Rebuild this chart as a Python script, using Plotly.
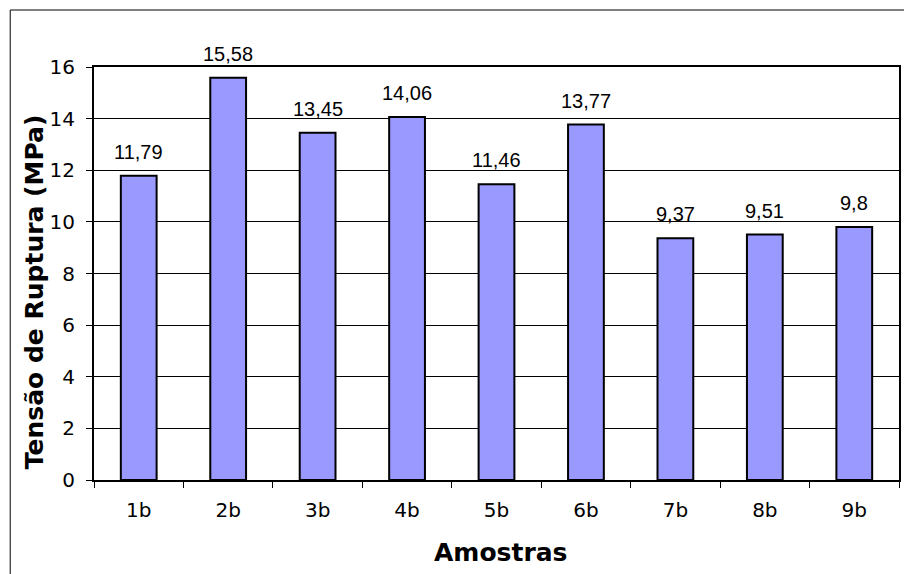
import plotly.graph_objects as go

categories = ["1b", "2b", "3b", "4b", "5b", "6b", "7b", "8b", "9b"]
values = [11.79, 15.58, 13.45, 14.06, 11.46, 13.77, 9.37, 9.51, 9.8]
labels = ["11,79", "15,58", "13,45", "14,06", "11,46", "13,77", "9,37", "9,51", "9,8"]
x_title = "Amostras"
y_title = "Tensão de Ruptura (MPa)"

W, H = 904, 574
L, R, T, B = 94, 3, 67, 94
pw, ph = W - L - R, H - T - B

fig = go.Figure(go.Bar(
    x=categories, y=values,
    marker=dict(color="#9999FF", line=dict(color="black", width=2)),
    width=0.4,
))

for c, v, t in zip(categories, values, labels):
    fig.add_annotation(x=c, y=v, text=t, showarrow=False, yanchor="bottom", yshift=11,
                       font=dict(family="Liberation Sans, Arial", size=20, color="black"))

fx = lambda px: (px - L) / pw
fy = lambda py: (H - B - py) / ph

fig.add_annotation(xref="paper", yref="paper", x=fx(502), y=fy(552), text="<b>" + x_title + "</b>",
                   showarrow=False, xanchor="center", yanchor="middle",
                   font=dict(family="DejaVu Sans, Verdana", size=25, color="black"))
fig.add_annotation(xref="paper", yref="paper", x=fx(34), y=fy(292), text="<b>" + y_title + "</b>",
                   showarrow=False, xanchor="center", yanchor="middle", textangle=-90,
                   font=dict(family="DejaVu Sans, Verdana", size=25, color="black"))

fig.update_layout(
    width=W, height=H, margin=dict(l=L, r=R, t=T, b=B),
    paper_bgcolor="white", plot_bgcolor="white", showlegend=False,
    font=dict(family="DejaVu Sans, Verdana", size=20, color="black"),
    shapes=[
        dict(type="line", xref="paper", yref="paper", x0=fx(10), x1=fx(910), y0=fy(10), y1=fy(10),
             line=dict(color="black", width=1)),
        dict(type="line", xref="paper", yref="paper", x0=fx(10), x1=fx(10), y0=fy(10), y1=fy(580),
             line=dict(color="black", width=1)),
    ],
)
fig.update_xaxes(
    showline=True, linecolor="black", linewidth=2, mirror=True,
    ticks="outside", tickson="boundaries", ticklen=6, tickcolor="black",
    tickfont=dict(family="DejaVu Sans, Verdana", size=20), ticklabelstandoff=11,
)
fig.update_yaxes(
    range=[0, 16], dtick=2, showline=True, linecolor="black", linewidth=2, mirror=True,
    showgrid=True, gridcolor="black", gridwidth=1, zeroline=False,
    ticks="outside", ticklen=6, tickcolor="black",
    tickfont=dict(family="DejaVu Sans, Verdana", size=20), ticklabelstandoff=7,
)

fig.write_html("out.html")
